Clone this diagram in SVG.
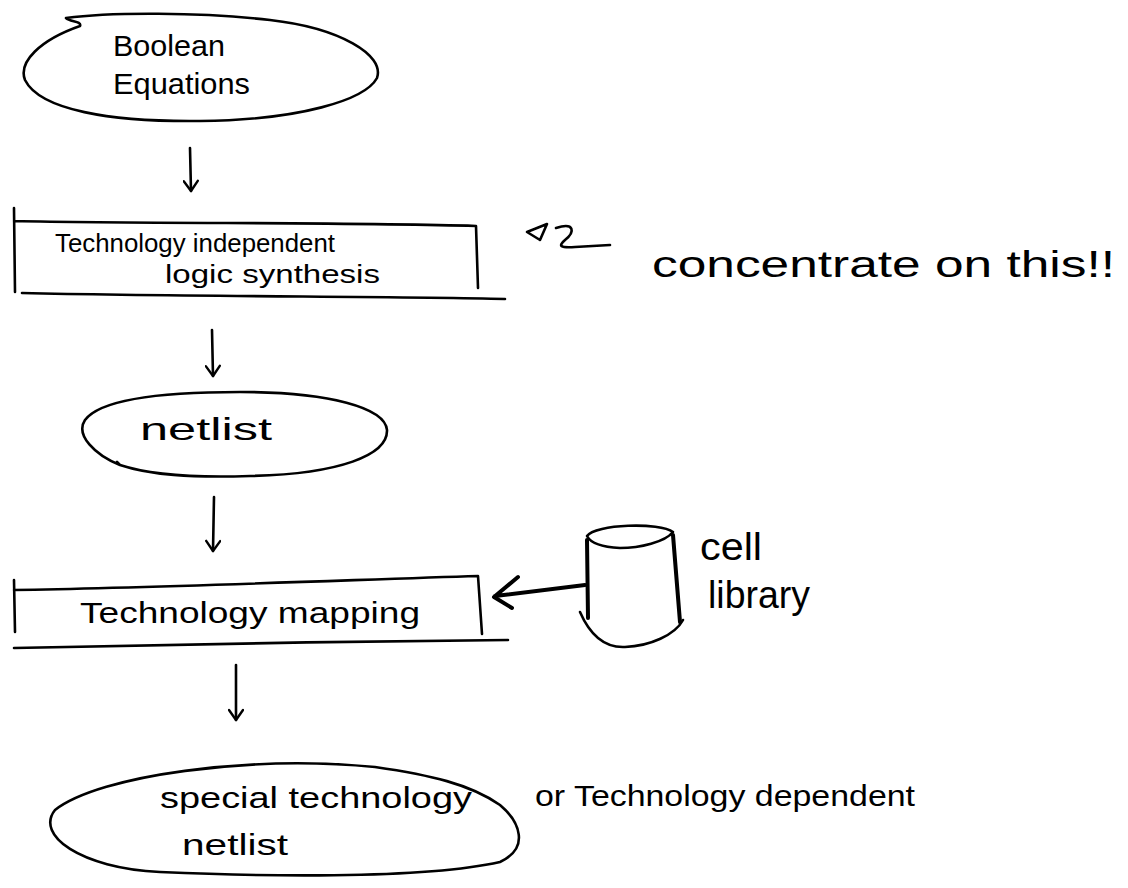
<svg xmlns="http://www.w3.org/2000/svg" width="1128" height="888" viewBox="0 0 1128 888">
<style>
.s{fill:none;stroke:#000;stroke-width:2.6;stroke-linecap:round;stroke-linejoin:round}
.t{font-family:"Liberation Sans","DejaVu Sans",sans-serif;fill:#000}
</style>
<defs>
<marker id="ah" markerWidth="16" markerHeight="16" refX="13" refY="8" orient="auto" markerUnits="userSpaceOnUse" viewBox="0 0 16 16">
<path d="M3,1 L13,8 L3,15" fill="none" stroke="#000" stroke-width="2.4" stroke-linecap="round" stroke-linejoin="round"/>
</marker>
</defs>
<rect width="1128" height="888" fill="#fff"/>
<g id="n-boolean">
<path class="s" d="M66,18 C70,22 82,21 80,26 C40,40 18,62 25,80 C40,110 110,122 200,121 C300,120 365,100 377,78 C385,55 340,28 270,20 C200,12 110,12 66,18 Z"/>
<text class="t" x="113" y="56" font-size="30" textLength="112" lengthAdjust="spacingAndGlyphs">Boolean</text>
<text class="t" x="113" y="94" font-size="30" textLength="137" lengthAdjust="spacingAndGlyphs">Equations</text>
</g>
<g id="n-indep">
<path class="s" d="M14,208 L15,292 M14,221 C150,224 350,222 476,226 L478,288 M22,293 C200,297 400,296 505,299"/>
<text class="t" x="55" y="252" font-size="26" textLength="280" lengthAdjust="spacingAndGlyphs">Technology independent</text>
<text class="t" x="165" y="283" font-size="26" textLength="215" lengthAdjust="spacingAndGlyphs">logic synthesis</text>
</g>
<g id="n-note">
<path class="s" d="M527,232 L547,224 L540,240 Z M556,228 C575,222 575,232 565,240 C558,246 560,248 575,247 L610,245"/>
<text class="t" x="652" y="277" font-size="36" textLength="463" lengthAdjust="spacingAndGlyphs">concentrate on this!!</text>
</g>
<g id="n-netlist">
<path class="s" d="M120,465 C95,455 75,435 85,420 C100,400 160,392 240,392 C330,392 385,408 387,430 C388,455 340,474 250,476 C190,478 150,475 120,465 L117,462"/>
<text class="t" x="140" y="440" font-size="32" textLength="132" lengthAdjust="spacingAndGlyphs">netlist</text>
</g>
<g id="n-mapping">
<path class="s" d="M14,580 L15,632 M14,590 C150,588 350,580 478,576 L482,634 M14,648 C150,645 350,641 508,640"/>
<text class="t" x="80" y="623" font-size="30" textLength="340" lengthAdjust="spacingAndGlyphs">Technology mapping</text>
</g>
<g id="n-cell">
<path class="s" d="M587,536 C595,524 660,522 673,532 C665,542 640,548 620,548 C600,547 590,542 587,536 Z"/>
<path class="s" d="M580,612 C590,635 605,648 625,647 C650,646 675,635 683,620"/>
<path d="M587,540 L588,618 M673,535 L680,622" fill="none" stroke="#000" stroke-width="4" stroke-linecap="round"/>
<text class="t" x="700" y="560" font-size="38" textLength="62" lengthAdjust="spacingAndGlyphs">cell</text>
<text class="t" x="708" y="608" font-size="38" textLength="102" lengthAdjust="spacingAndGlyphs">library</text>
</g>
<g id="n-special">
<path class="s" d="M375,767 C250,755 100,775 55,810 C35,835 80,868 160,872 C250,876 420,880 500,862 C530,848 520,822 500,805 C470,784 430,775 375,767 Z"/>
<text class="t" x="160" y="808" font-size="30" textLength="312" lengthAdjust="spacingAndGlyphs">special technology</text>
<text class="t" x="182" y="855" font-size="30" textLength="106" lengthAdjust="spacingAndGlyphs">netlist</text>
<text class="t" x="535" y="806" font-size="30" textLength="380" lengthAdjust="spacingAndGlyphs">or Technology dependent</text>
</g>
<g id="connectors">
<path class="s" d="M190,148 L191,191" marker-end="url(#ah)"/>
<path class="s" d="M212,330 L213,376" marker-end="url(#ah)"/>
<path class="s" d="M214,497 L213,551" marker-end="url(#ah)"/>
<path class="s" d="M236,665 L236,720" marker-end="url(#ah)"/>
<path d="M585,585 L495,596 M518,577 L494,597 L512,608" fill="none" stroke="#000" stroke-width="4" stroke-linecap="round" stroke-linejoin="round"/>
</g>
</svg>
